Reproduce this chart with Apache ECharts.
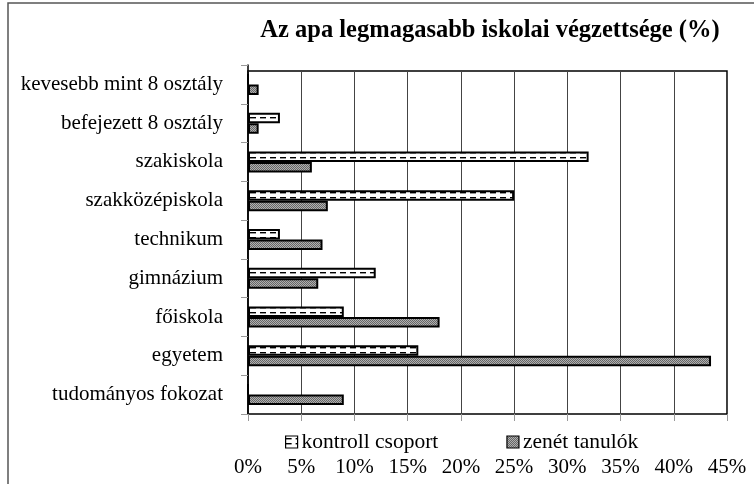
<!DOCTYPE html>
<html><head><meta charset="utf-8">
<script src="https://cdn.jsdelivr.net/npm/echarts@6/dist/echarts.min.js"></script>
<style>html,body{margin:0;padding:0;background:#fff}#c{width:754px;height:484px}</style>
</head><body><div id="c"></div>
<script>
const title = 'Az apa legmagasabb iskolai végzettsége (%)';
const categories = ['kevesebb mint 8 osztály','befejezett 8 osztály','szakiskola','szakközépiskola','technikum','gimnázium','főiskola','egyetem','tudományos fokozat'];
const seriesNames = ['kontroll csoport','zenét tanulók'];
const kontroll = [0, 3, 32, 25, 3, 12, 9, 16, 0];
const zenet = [1, 1, 6, 7.5, 7, 6.6, 18, 43.5, 9];
const xMin = 0, xMax = 45, xStep = 5;

function dashPattern(){
  const c = document.createElement('canvas'); c.width = 10; c.height = 5;
  const g = c.getContext('2d');
  g.fillStyle = '#fff'; g.fillRect(0,0,10,5);
  g.fillStyle = '#000'; g.fillRect(0,2,6,1.4);
  return c;
}
function dotPattern(){
  const c = document.createElement('canvas'); c.width = 2; c.height = 2;
  const g = c.getContext('2d');
  g.fillStyle = '#b0b0b0'; g.fillRect(0,0,2,2);
  g.fillStyle = '#666'; g.fillRect(0,0,1,1); g.fillRect(1,1,1,1);
  return c;
}
const FONT = 'Liberation Serif';
const chart = echarts.init(document.getElementById('c'), null, {renderer:'canvas'});
const gridL = 248, gridR = 27, gridB = 70;
chart.setOption({
  animation:false,
  backgroundColor:'#fff',
  title:{text:title, left:485, top:13, textAlign:'center',
    textStyle:{fontFamily:FONT, fontSize:24.5, fontWeight:'bold', color:'#000'}},
  legend:{data:seriesNames, left:280, top:426, itemWidth:12, itemHeight:12, itemGap:68, icon:'rect',
    textStyle:{fontFamily:FONT, fontSize:21.5, color:'#000', padding:[0,0,0,-1]},
    itemStyle:{borderColor:'#000', borderWidth:1.2}},
  graphic:[{type:'rect', shape:{x:8,y:3,width:900,height:700}, style:{fill:'none', stroke:'#555', lineWidth:1.5}, silent:true, z:-1}],
  grid:[
    {left:gridL, right:gridR, top:65, bottom:gridB, containLabel:false},
    {left:gridL, right:gridR, top:71, bottom:gridB, show:true, borderColor:'#000', borderWidth:1.5, backgroundColor:'transparent', z:0}
  ],
  xAxis:[
    {type:'value', gridIndex:0, min:xMin, max:xMax, interval:xStep,
      axisLine:{show:false}, splitLine:{show:false},
      axisTick:{show:true, length:7, lineStyle:{color:'#999'}},
      axisLabel:{margin:43, fontFamily:FONT, fontSize:21, color:'#000', formatter:v=>v+'%'}},
    {type:'value', gridIndex:1, min:xMin, max:xMax, interval:xStep,
      axisLine:{show:false}, axisTick:{show:false}, axisLabel:{show:false},
      splitLine:{show:true, lineStyle:{color:'#444', width:1}}}
  ],
  yAxis:[
    {type:'category', gridIndex:0, data:categories, inverse:true,
      axisLine:{show:true, lineStyle:{color:'#000', width:1.5}},
      axisTick:{show:true, length:7, lineStyle:{color:'#999'}},
      axisLabel:{margin:25, fontFamily:FONT, fontSize:21, color:'#000'}},
    {type:'category', gridIndex:1, data:categories, show:false}
  ],
  series:[
    {name:seriesNames[0], type:'bar', xAxisIndex:0, yAxisIndex:0, data:kontroll, barWidth:10.5, barGap:'0%',
      itemStyle:{color:{image:dashPattern(), repeat:'repeat'}, borderColor:'#000', borderWidth:2}, z:3},
    {name:seriesNames[1], type:'bar', xAxisIndex:0, yAxisIndex:0, data:zenet, barWidth:10.5, barGap:'0%',
      itemStyle:{color:{image:dotPattern(), repeat:'repeat'}, borderColor:'#000', borderWidth:2}, z:3}
  ]
});
</script></body></html>
